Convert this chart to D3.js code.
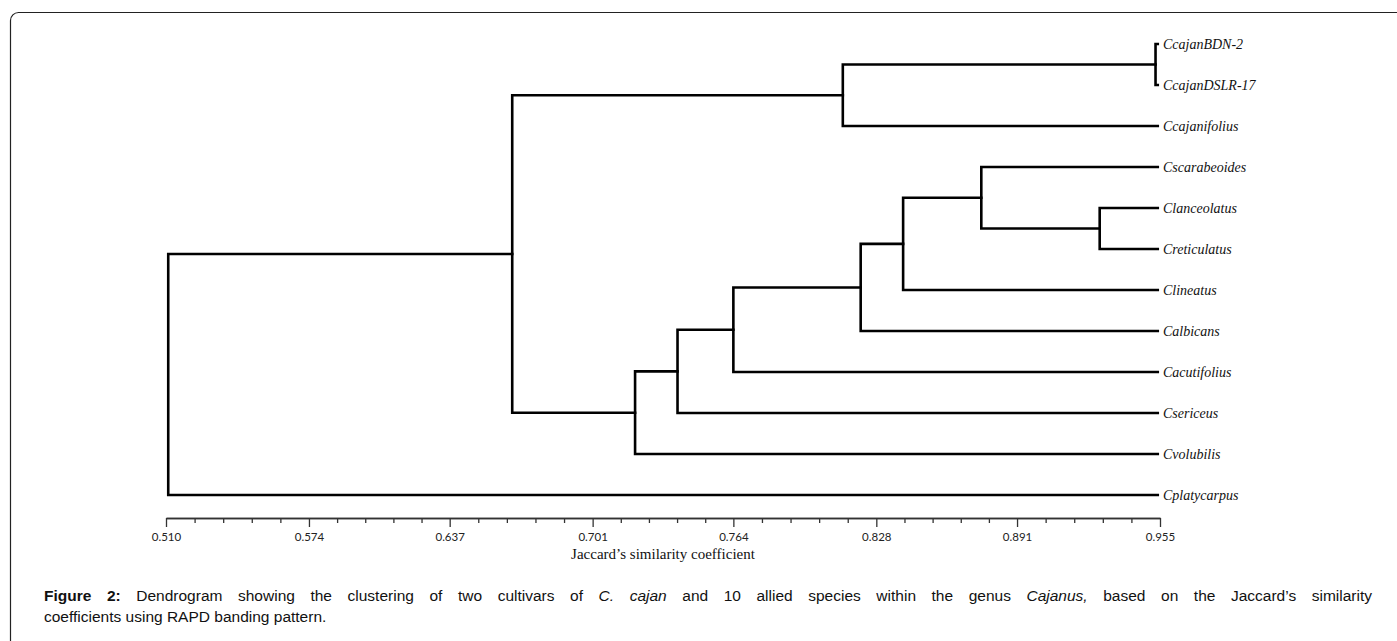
<!DOCTYPE html>
<html>
<head>
<meta charset="utf-8">
<script src="https://cdn.jsdelivr.net/npm/d3@7"></script>
<style>
  html, body { margin: 0; padding: 0; background: #fff; overflow: hidden; }
  #chart { position: absolute; left: 0; top: 0; }
  .caption {
    position: absolute; left: 44px; width: 1328px;
    font-family: "Liberation Sans", Arial, sans-serif; font-size: 15.5px; color: #111;
    line-height: 21px; white-space: nowrap;
  }
  .caption.justify { text-align: justify; text-align-last: justify; white-space: normal; }
</style>
</head>
<body>
<svg id="chart" width="1397" height="641"></svg>
<div class="caption justify" style="top:585px"><b>Figure 2:</b> Dendrogram showing the clustering of two cultivars of <i>C. cajan</i> and 10 allied species within the genus <i>Cajanus,</i> based on the Jaccard’s similarity</div>
<div class="caption" style="top:606px">coefficients using RAPD banding pattern.</div>
<script>
(function() {
  'use strict';

  // leaves, top to bottom
  var leaves = ["CcajanBDN-2", "CcajanDSLR-17", "Ccajanifolius", "Cscarabeoides", "Clanceolatus",
                "Creticulatus", "Clineatus", "Calbicans", "Cacutifolius", "Csericeus", "Cvolubilis", "Cplatycarpus"];

  // merges: m0, m1, ... (joins two earlier clusters at a similarity)
  var mergeLeft  = ["CcajanBDN-2", "Clanceolatus", "Cscarabeoides", "m2", "m3", "m0", "m4", "m6", "m7", "m5", "m9"];
  var mergeRight = ["CcajanDSLR-17", "Creticulatus", "m1", "Clineatus", "Calbicans", "Ccajanifolius", "Cacutifolius", "Csericeus", "Cvolubilis", "m8", "Cplatycarpus"];
  var mergeSimilarity = [0.953, 0.928, 0.875, 0.840, 0.821, 0.813, 0.764, 0.739, 0.720, 0.665, 0.511];

  var tickLabels = ["0.510", "0.574", "0.637", "0.701", "0.764", "0.828", "0.891", "0.955"];
  var axisTitle = "Jaccard’s similarity coefficient";

  var svg = d3.select("#chart");

  // frame
  svg.append("rect")
    .attr("x", 10.5).attr("y", 12.5)
    .attr("width", 1420).attr("height", 700)
    .attr("rx", 8).attr("ry", 8)
    .attr("fill", "none").attr("stroke", "#222").attr("stroke-width", 1.2);

  var majors = tickLabels.map(Number);
  var x = d3.scaleLinear().domain([majors[0], majors[majors.length - 1]]).range([166, 1160]);
  var y = d3.scalePoint().domain(leaves).range([44, 495]);

  // node positions
  var pos = {};
  leaves.forEach(function(l) { pos[l] = { y: y(l), h: 0.954 }; });
  mergeSimilarity.forEach(function(s, i) {
    var a = pos[mergeLeft[i]], b = pos[mergeRight[i]];
    pos["m" + i] = { y: (a.y + b.y) / 2, h: s };
  });

  var g = svg.append("g")
    .attr("fill", "none").attr("stroke", "#000").attr("stroke-width", 2.6)
    .attr("stroke-linecap", "square");

  mergeSimilarity.forEach(function(s, i) {
    var a = pos[mergeLeft[i]], b = pos[mergeRight[i]];
    var xs = x(s);
    g.append("path").attr("d", "M" + x(a.h) + "," + a.y + "H" + xs + "V" + b.y + "H" + x(b.h));
  });

  // leaf labels
  svg.append("g").selectAll("text")
    .data(leaves)
    .join("text")
      .attr("x", 1163)
      .attr("y", function(d) { return y(d) + 5; })
      .attr("font-family", "'Liberation Serif', 'Times New Roman', serif")
      .attr("font-style", "italic")
      .attr("font-size", 14)
      .attr("fill", "#111")
      .text(function(d) { return d; });

  // axis
  var minors = [];
  for (var i = 0; i < majors.length - 1; i++) {
    for (var k = 1; k < 5; k++) minors.push(majors[i] + (majors[i + 1] - majors[i]) * k / 5);
  }
  var axisY = 518;

  svg.append("g")
    .attr("transform", "translate(0," + axisY + ")")
    .call(d3.axisBottom(x).tickValues(minors).tickSize(5).tickSizeOuter(0).tickFormat(""))
    .call(function(a) { a.selectAll("line,path").attr("stroke", "#333").attr("stroke-width", 1.3); });

  svg.append("g")
    .attr("transform", "translate(0," + axisY + ")")
    .call(d3.axisBottom(x).tickValues(majors).tickSize(9).tickSizeOuter(0).tickPadding(6)
      .tickFormat(function(d, i) { return tickLabels[i]; }))
    .call(function(a) {
      a.selectAll("line,path").attr("stroke", "#333").attr("stroke-width", 1.3);
      a.selectAll("text").attr("font-family", "Lato, 'Open Sans', sans-serif").attr("font-size", 11.5).attr("fill", "#222");
    });

  svg.append("text")
    .attr("x", (x.range()[0] + x.range()[1]) / 2)
    .attr("y", 559)
    .attr("text-anchor", "middle")
    .attr("font-family", "'Liberation Serif', 'Times New Roman', serif")
    .attr("font-size", 15)
    .attr("fill", "#111")
    .text(axisTitle);
})();
</script>
</body>
</html>
